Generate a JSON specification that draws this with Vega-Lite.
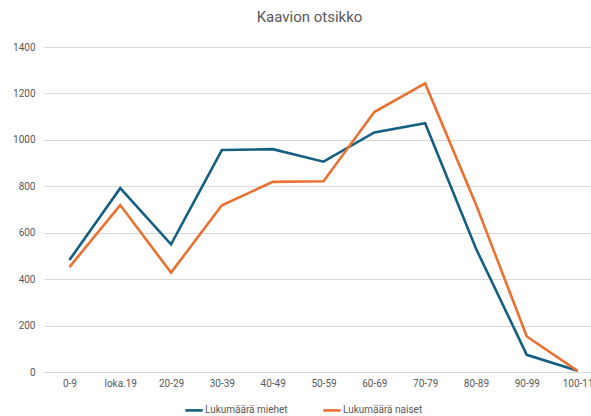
{
  "$schema": "https://vega.github.io/schema/vega-lite/v6.json",
  "width": 559,
  "height": 325,
  "autosize": {"type": "none"},
  "padding": {"left": 44, "top": 47, "right": 0, "bottom": 44},
  "background": "white",
  "title": {
    "text": "Kaavion otsikko",
    "fontSize": 15,
    "font": "Roboto",
    "fontWeight": "normal",
    "color": "#595959",
    "anchor": "middle",
    "dx": -14,
    "offset": 17
  },
  "config": {
    "view": {"stroke": null},
    "font": "Roboto"
  },
  "data": {
    "values": [
      {"ika": "0-9", "sarja": "Lukumäärä miehet", "arvo": 482},
      {"ika": "loka.19", "sarja": "Lukumäärä miehet", "arvo": 792},
      {"ika": "20-29", "sarja": "Lukumäärä miehet", "arvo": 550},
      {"ika": "30-39", "sarja": "Lukumäärä miehet", "arvo": 956},
      {"ika": "40-49", "sarja": "Lukumäärä miehet", "arvo": 960},
      {"ika": "50-59", "sarja": "Lukumäärä miehet", "arvo": 906},
      {"ika": "60-69", "sarja": "Lukumäärä miehet", "arvo": 1032},
      {"ika": "70-79", "sarja": "Lukumäärä miehet", "arvo": 1072},
      {"ika": "80-89", "sarja": "Lukumäärä miehet", "arvo": 532},
      {"ika": "90-99", "sarja": "Lukumäärä miehet", "arvo": 74},
      {"ika": "100-11", "sarja": "Lukumäärä miehet", "arvo": 5},
      {"ika": "0-9", "sarja": "Lukumäärä naiset", "arvo": 452},
      {"ika": "loka.19", "sarja": "Lukumäärä naiset", "arvo": 719},
      {"ika": "20-29", "sarja": "Lukumäärä naiset", "arvo": 428},
      {"ika": "30-39", "sarja": "Lukumäärä naiset", "arvo": 718},
      {"ika": "40-49", "sarja": "Lukumäärä naiset", "arvo": 819},
      {"ika": "50-59", "sarja": "Lukumäärä naiset", "arvo": 822},
      {"ika": "60-69", "sarja": "Lukumäärä naiset", "arvo": 1120},
      {"ika": "70-79", "sarja": "Lukumäärä naiset", "arvo": 1243},
      {"ika": "80-89", "sarja": "Lukumäärä naiset", "arvo": 722},
      {"ika": "90-99", "sarja": "Lukumäärä naiset", "arvo": 153},
      {"ika": "100-11", "sarja": "Lukumäärä naiset", "arvo": 5}
    ]
  },
  "mark": {"type": "line", "strokeWidth": 2.6, "strokeJoin": "miter"},
  "encoding": {
    "x": {
      "field": "ika",
      "type": "nominal",
      "sort": ["0-9", "loka.19", "20-29", "30-39", "40-49", "50-59", "60-69", "70-79", "80-89", "90-99", "100-11"],
      "scale": {"paddingInner": 0, "paddingOuter": 0.5},
      "axis": {
        "title": null,
        "labelAngle": 0,
        "labelColor": "#595959",
        "labelFontSize": 10,
        "labelPadding": 6,
        "ticks": false,
        "domain": true,
        "domainColor": "#d9d9d9",
        "domainWidth": 1,
        "grid": false
      }
    },
    "y": {
      "field": "arvo",
      "type": "quantitative",
      "scale": {"domain": [0, 1400], "nice": false},
      "axis": {
        "title": null,
        "format": "d",
        "values": [0, 200, 400, 600, 800, 1000, 1200, 1400],
        "labelColor": "#595959",
        "labelFontSize": 10,
        "labelPadding": 9,
        "ticks": false,
        "domain": false,
        "grid": true,
        "gridColor": "#d9d9d9",
        "gridWidth": 1
      }
    },
    "color": {
      "field": "sarja",
      "type": "nominal",
      "scale": {"domain": ["Lukumäärä miehet", "Lukumäärä naiset"], "range": ["#156082", "#E97132"]},
      "legend": {
        "title": null,
        "orient": "none",
        "direction": "horizontal",
        "legendX": 140,
        "legendY": 353,
        "symbolType": "stroke",
        "symbolSize": 300,
        "symbolStrokeWidth": 2.6,
        "labelColor": "#595959",
        "labelFontSize": 10,
        "labelOffset": 1,
        "columnPadding": 30
      }
    }
  }
}
